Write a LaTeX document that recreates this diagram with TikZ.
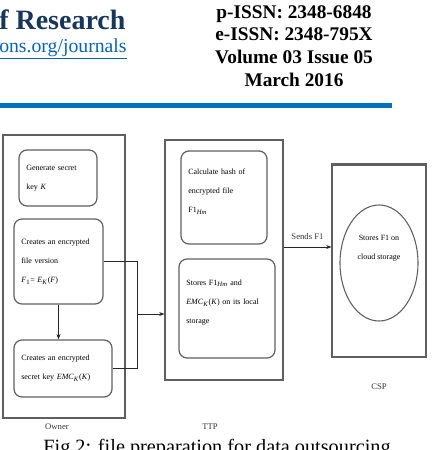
\documentclass[tikz,border=0pt]{standalone}
\usepackage{fontspec}
\setmainfont{Liberation Serif}
\usetikzlibrary{shapes,arrows.meta,positioning}
\definecolor{hdrnavy}{RGB}{23,54,93}
\definecolor{hdrlink}{RGB}{5,99,193}
\definecolor{hdrrule}{RGB}{0,112,192}
\definecolor{boxgrey}{RGB}{95,95,95}
\newcommand{\emckey}{\textit{EMC}\textsubscript{\textit{K}}(\textit{K})}

\begin{document}
\begin{tikzpicture}[x=0.75pt, y=-0.75pt,
    party/.style={rectangle, draw=boxgrey, line width=0.8pt, inner sep=0pt},
    task/.style={rectangle, draw=boxgrey, line width=0.9pt, rounded corners=6pt,
        font=\fontsize{6}{14.3}\selectfont, align=left, inner xsep=5.5pt, inner ysep=2pt},
    tag/.style={font=\fontsize{6.5}{7}\selectfont, text=black!80},
    arr/.style={-{Stealth[length=4pt,width=3pt]}, line width=0.6pt, black!85},
    link/.style={line width=0.6pt, black!85}
]
    \useasboundingbox (0,0) rectangle (432,450);

    % page header
    \node[anchor=base west, inner sep=0pt, font=\fontsize{21}{24}\selectfont\bfseries, text=hdrnavy] (jname) at (-1,29) {f Research};
    \node[anchor=base west, inner sep=0pt, font=\fontsize{14.8}{17}\selectfont, text=hdrlink] (jurl) at (-1,52) {\underline{ons.org/journals}};
    \node[anchor=north, inner sep=0pt, align=center, font=\fontsize{14.5}{17.1}\selectfont\bfseries] (issn) at (294,5)
        {p-ISSN: 2348-6848\\e-ISSN: 2348-795X\\Volume 03 Issue 05\\March 2016};
    \draw[hdrrule, line width=3.8pt] (0,105.5) -- (392,105.5);

    % the three parties
    \node[party, minimum width=91.5pt, minimum height=212.25pt] (owner) at (64,276.5) {};
    \node[party, minimum width=88.5pt, minimum height=180pt] (ttp) at (224,260) {};
    \node[party, minimum width=70.5pt, minimum height=144pt] (csp) at (379,261) {};
    \draw[boxgrey, line width=1.6pt] (csp.north west) -- (csp.north east);

    \node[tag] (ownertag) at (57,427) {Owner};
    \node[tag] (ttptag) at (210,427) {TTP};
    \node[tag] (csptag) at (379,387) {CSP};

    % owner steps
    \node[task, text width=47.5pt, minimum height=42pt] (kgen) at (58,178) {Generate secret\\key \textit{K}};
    \node[task, text width=55.75pt, minimum height=63.75pt] (fenc) at (58.5,261.5) {Creates an encrypted\\file version\\\textit{F}\textsubscript{1}= \textit{E}\textsubscript{\textit{K}}(\textit{F})};
    \node[task, text width=62.5pt, minimum height=42.75pt] (kenc) at (63,368.5) {Creates an encrypted\\secret key \emckey};

    % ttp steps
    \node[task, text width=53.5pt, minimum height=69.75pt] (hashf) at (224,197.5) {Calculate hash of\\encrypted file\\F1\textsubscript{\textit{Hm}}\\[-4pt]\mbox{}};
    \node[task, text width=61pt, minimum height=74.25pt] (storef) at (227,308.5) {Stores F1\textsubscript{\textit{Hm}} and\\\emckey{} on its local\\storage\\[-4pt]\mbox{}};

    % csp step
    \node[ellipse, draw=boxgrey, line width=0.8pt, inner sep=0pt, align=center,
        minimum width=58.5pt, minimum height=87pt, font=\fontsize{6}{14.3}\selectfont] (cloud) at (379,263)
        {Stores F1 on\\cloud storage\\[8.5pt]\mbox{}};

    \coordinate (join) at (137,314);
    \draw[arr] (fenc.south) -- (fenc.south |- kenc.north);
    \draw[link] (fenc.east) -| (join);
    \draw[link] (kenc.east) -| (join);
    \draw[arr] (join) -- (join -| ttp.west);
    \draw[arr] ([yshift=9.75pt]ttp.east) -- ([yshift=9.75pt]ttp.east -| csp.west)
        node[midway, above=2pt, tag] {Sends F1};

    \node[anchor=base, inner sep=0pt, font=\fontsize{15.2}{18}\selectfont] (caption) at (217,453)
        {Fig 2: file preparation for data outsourcing};
\end{tikzpicture}
\end{document}
